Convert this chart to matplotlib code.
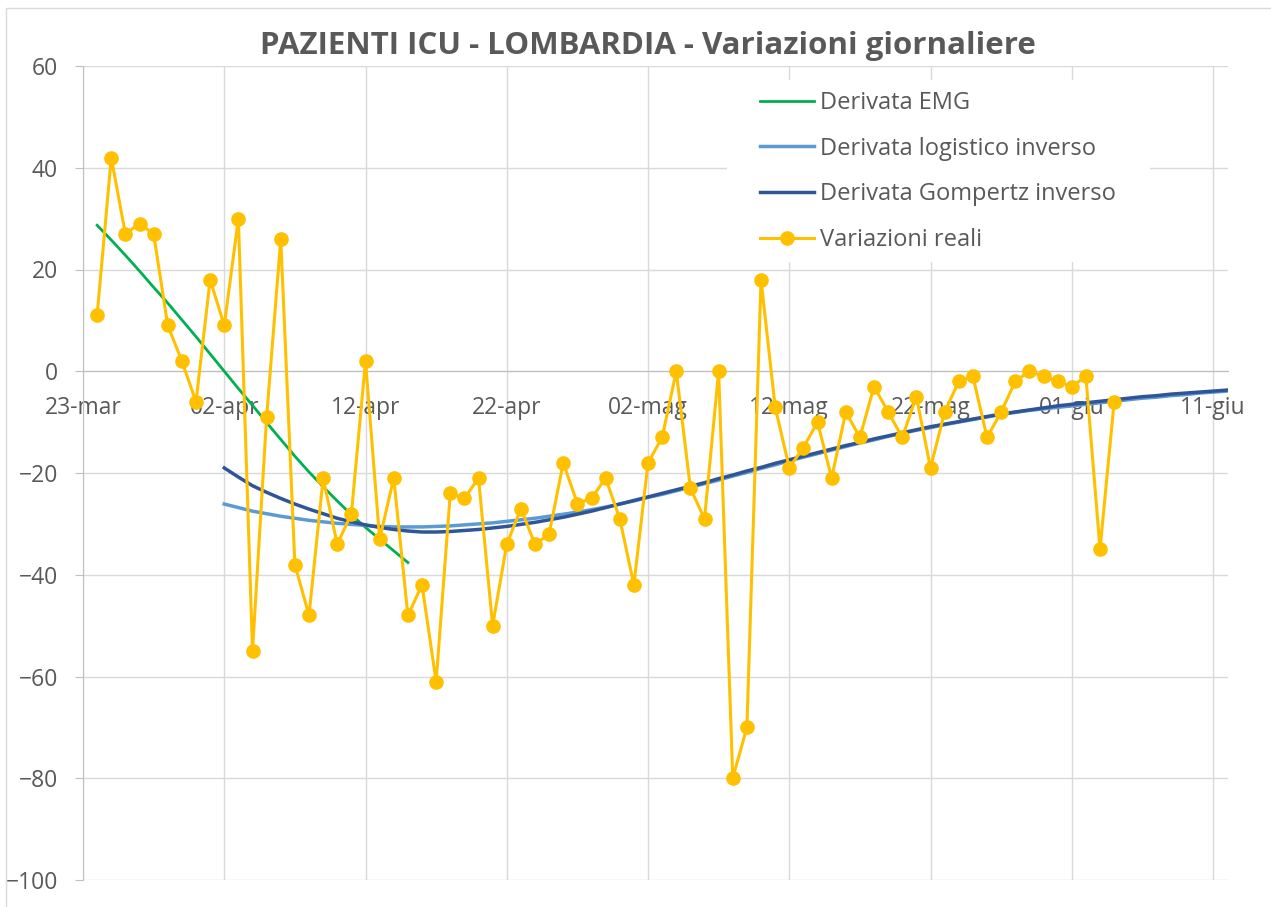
import matplotlib
matplotlib.use("Agg")
import matplotlib.pyplot as plt
from matplotlib.patches import Rectangle

plt.rcParams['font.family'] = ['Open Sans', 'DejaVu Sans']

# giorni contati dal 23-mar
etichette_x = ['23-mar', '02-apr', '12-apr', '22-apr', '02-mag', '12-mag', '22-mag', '01-giu', '11-giu']
tick_x = [0, 10, 20, 30, 40, 50, 60, 70, 80]

giorni_reali = list(range(1, 74))
variazioni_reali = [11, 42, 27, 29, 27, 9, 2, -6, 18, 9,
                    30, -55, -9, 26, -38, -48, -21, -34, -28, 2,
                    -33, -21, -48, -42, -61, -24, -25, -21, -50, -34,
                    -27, -34, -32, -18, -26, -25, -21, -29, -42, -18,
                    -13, 0, -23, -29, 0, -80, -70, 18, -7, -19,
                    -15, -10, -21, -8, -13, -3, -8, -13, -5, -19,
                    -8, -2, -1, -13, -8, -2, 0, -1, -2, -3,
                    -1, -35, -6]

giorni_emg = list(range(1, 24))
derivata_emg = [28.7, 25.8, 22.8, 19.7, 16.5, 13.4, 10.1, 6.8, 3.4, 0.0,
                -3.4, -6.7, -10.1, -13.4, -16.7, -19.8, -22.7, -25.5, -28.2, -30.7,
                -33.0, -35.3, -37.6]

giorni_modelli = list(range(10, 82))
derivata_logistico = [-26.1, -26.8, -27.5, -28.0, -28.5, -28.9, -29.3, -29.6, -29.9, -30.1,
                      -30.3, -30.5, -30.6, -30.6, -30.6, -30.5, -30.4, -30.2, -30.0, -29.8,
                      -29.5, -29.2, -28.9, -28.5, -28.1, -27.7, -27.2, -26.7, -26.1, -25.5,
                      -24.8, -24.2, -23.5, -22.8, -22.1, -21.4, -20.6, -19.9, -19.1, -18.4,
                      -17.6, -16.9, -16.2, -15.5, -14.8, -14.1, -13.5, -12.8, -12.2, -11.6,
                      -11.1, -10.5, -10.0, -9.5, -9.0, -8.5, -8.1, -7.7, -7.4, -7.1,
                      -6.8, -6.5, -6.2, -5.9, -5.6, -5.3, -5.1, -4.8, -4.6, -4.3,
                      -4.1, -3.9]
derivata_gompertz = [-19.0, -20.8, -22.5, -23.8, -25.0, -26.1, -27.1, -28.0, -28.9, -29.6,
                     -30.2, -30.7, -31.1, -31.4, -31.6, -31.6, -31.5, -31.3, -31.1, -30.8,
                     -30.5, -30.1, -29.7, -29.2, -28.7, -28.1, -27.5, -26.8, -26.1, -25.4,
                     -24.7, -24.0, -23.3, -22.6, -21.9, -21.1, -20.4, -19.6, -18.9, -18.1,
                     -17.4, -16.7, -16.0, -15.3, -14.6, -14.0, -13.3, -12.7, -12.1, -11.5,
                     -10.9, -10.4, -9.9, -9.4, -8.9, -8.4, -8.0, -7.6, -7.2, -6.8,
                     -6.5, -6.2, -5.9, -5.6, -5.3, -5.0, -4.8, -4.5, -4.3, -4.1,
                     -3.9, -3.7]

W, H = 1271, 907
fig = plt.figure(figsize=(W / 100, H / 100), dpi=100)
ax = fig.add_axes([83 / W, 1 - 880 / H, (1228 - 83) / W, (880 - 66) / H])

ax.plot(giorni_emg, derivata_emg, color='#00B050', lw=2.0, label='Derivata EMG', zorder=3)
ax.plot(giorni_modelli, derivata_logistico, color='#5B9BD5', lw=2.5, label='Derivata logistico inverso', zorder=3)
ax.plot(giorni_modelli, derivata_gompertz, color='#2F5597', lw=2.5, label='Derivata Gompertz inverso', zorder=3)
ax.plot(giorni_reali, variazioni_reali, color='#FFC000', lw=2.2, marker='o', markersize=9.5,
        label='Variazioni reali', zorder=4)

ax.set_xlim(0, 81.06)
ax.set_ylim(-100, 60)
ax.set_yticks(range(-100, 61, 20))
ax.set_xticks(tick_x)
ax.set_xticklabels(etichette_x)

ax.grid(True, color='#D9D9D9', lw=1)
ax.set_axisbelow(True)
for s in ['top', 'right']:
    ax.spines[s].set_visible(False)
ax.spines['bottom'].set_position(('data', 0))
ax.spines['bottom'].set_color('#BFBFBF')
ax.spines['left'].set_color('#BFBFBF')
ax.tick_params(axis='y', colors='#BFBFBF', labelcolor='#595959', labelsize=16.5, length=6, pad=12)
ax.tick_params(axis='x', colors='#BFBFBF', labelcolor='#595959', labelsize=16.5, length=0, pad=18)

# sfondo bianco della legenda
ax.add_patch(Rectangle((727 / W, 1 - 262 / H), (1150 - 727) / W, (262 - 80) / H,
                       transform=fig.transFigure, facecolor='white', edgecolor='none', zorder=1))

ax.legend(loc='upper left', bbox_to_anchor=(760 / W, 1 - 91 / H), bbox_transform=fig.transFigure,
          frameon=False, fontsize=17, labelcolor='#595959', handlelength=2.3, handletextpad=0.25,
          labelspacing=0.92, borderpad=0, borderaxespad=0)

fig.text(648 / W, 1 - 46 / H, 'PAZIENTI ICU - LOMBARDIA - Variazioni giornaliere',
         ha='center', va='center', fontsize=22.5, fontweight='bold', color='#595959')

fig.patches.append(Rectangle((6 / W, -0.1), 2, 1.1 - 8 / H, transform=fig.transFigure,
                             facecolor='none', edgecolor='#D9D9D9', lw=1))

fig.savefig('out.png', dpi=100)
